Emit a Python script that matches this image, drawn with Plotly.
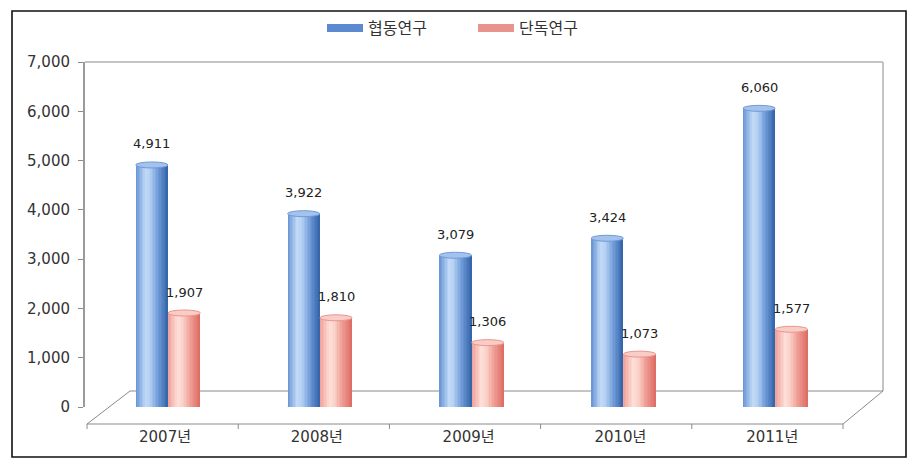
import plotly.graph_objects as go

# ---- data ----
categories = ["2007년", "2008년", "2009년", "2010년", "2011년"]
coop_values = [4911, 3922, 3079, 3424, 6060]     # 협동연구
solo_values = [1907, 1810, 1306, 1073, 1577]     # 단독연구
series_names = ["협동연구", "단독연구"]
y_ticks = [0, 1000, 2000, 3000, 4000, 5000, 6000, 7000]

# ---- style ----
FONT = "DejaVu Sans, Noto Sans CJK KR"
blue_key = [(0.0, "#6592d4"), (0.3, "#c2daf6"), (0.45, "#b2cff2"),
            (0.7, "#6d99d6"), (1.0, "#3162a8")]
red_key = [(0.0, "#ef9f97"), (0.3, "#fde0d8"), (0.45, "#fad2ca"),
           (0.7, "#ef9b92"), (1.0, "#db6b64")]
cap_fill = ["#a3c3ee", "#f9cdc6"]
cap_line = ["#6f9ad6", "#e8968e"]
legend_col = ["#5b8ad0", "#e8938c"]
NSTRIP = 22

OFFSET = 8                      # page body margin of the browser
WIN_W, WIN_H = 918, 467
L, R, T, B = 85, 883, 62, 407   # plot area in window pixels
X0, X1 = -0.527, 4.730
Y0, Y1 = 0, 7000
bar_w = 0.213
bar_shift = 0.02
px_per_y = (B - T) / (Y1 - Y0)


def px(xp):
    return (xp - L) / (R - L)


def py(yp):
    return (B - yp) / (B - T)


def hex2rgb(h):
    h = h.lstrip("#")
    return [int(h[i:i + 2], 16) for i in (0, 2, 4)]


def grad(key, t):
    for (t0, c0), (t1, c1) in zip(key[:-1], key[1:]):
        if t0 <= t <= t1:
            f = (t - t0) / (t1 - t0)
            a, b = hex2rgb(c0), hex2rgb(c1)
            return "rgb({},{},{})".format(*[round(a[j] + (b[j] - a[j]) * f) for j in range(3)])
    return key[-1][1]


xs = list(range(len(categories)))
fig = go.Figure()

all_series = [coop_values, solo_values]
keys = [blue_key, red_key]
offsets = [-bar_w + bar_shift, bar_shift]

for s, vals in enumerate(all_series):
    sw = bar_w / NSTRIP
    for k in range(NSTRIP):
        col = grad(keys[s], (k + 0.5) / NSTRIP)
        fig.add_trace(go.Bar(
            x=xs, y=vals, width=[sw * 1.6 if k < NSTRIP - 1 else sw] * len(xs),
            offset=[offsets[s] + k * sw] * len(xs),
            marker=dict(color=col, line=dict(width=0)),
            showlegend=False, hoverinfo="skip"))

cap_h = 3 / px_per_y
shapes = []
annotations = []
for s, vals in enumerate(all_series):
    for i, v in enumerate(vals):
        xa = xs[i] + offsets[s]
        xb = xa + bar_w
        shapes.append(dict(type="circle", xref="x", yref="y",
                           x0=xa, x1=xb, y0=-cap_h, y1=cap_h,
                           fillcolor=grad(keys[s], 0.75), line=dict(width=0),
                           layer="below"))
        shapes.append(dict(type="circle", xref="x", yref="y",
                           x0=xa, x1=xb, y0=v - cap_h, y1=v + cap_h,
                           fillcolor=cap_fill[s],
                           line=dict(color=cap_line[s], width=1),
                           layer="above"))
        annotations.append(dict(x=(xa + xb) / 2, y=v, xref="x", yref="y",
                                text=f"{v:,}", showarrow=False, yshift=21,
                                font=dict(family=FONT, size=13, color="#222")))

for s, name in enumerate(series_names):
    fig.add_trace(go.Scatter(x=[None], y=[None], mode="lines", name=name,
                             line=dict(color=legend_col[s], width=8)))

wall = "#c4c4c4"
floor = "#8a8a8a"


def line(x0p, y0p, x1p, y1p, color, width):
    shapes.append(dict(type="line", xref="paper", yref="paper",
                       x0=px(x0p), y0=py(y0p), x1=px(x1p), y1=py(y1p),
                       line=dict(color=color, width=width), layer="below"))


line(L, T, R, T, wall, 2)
line(R, T, R, 391, wall, 2)
line(130, 391, R, 391, floor, 1)
line(87, 424, 130, 391, floor, 1)
line(87, 424, 843, 424, floor, 1)
line(843, 424, R, 391, floor, 1)
for k in range(len(categories) + 1):
    xt = 87 + k * (843 - 87) / len(categories)
    line(xt, 424, xt, 429, floor, 1)

shapes.append(dict(type="rect", xref="paper", yref="paper",
                   x0=px(12), y0=py(11), x1=px(906), y1=py(457),
                   line=dict(color="#111", width=1.6), fillcolor="rgba(0,0,0,0)"))

fig.update_layout(
    width=WIN_W - OFFSET, height=WIN_H - OFFSET, autosize=False,
    margin=dict(l=L - OFFSET, r=WIN_W - R, t=T - OFFSET, b=WIN_H - B, pad=0,
                autoexpand=False),
    paper_bgcolor="white", plot_bgcolor="white",
    barmode="overlay", bargap=0,
    shapes=shapes, annotations=annotations,
    font=dict(family=FONT, size=15, color="#333"),
    legend=dict(orientation="h", x=px(322), xanchor="left",
                y=py(28), yanchor="middle",
                font=dict(family=FONT, size=16, color="#333"),
                itemwidth=36, tracegroupgap=0, entrywidth=100,
                bgcolor="rgba(0,0,0,0)"),
    xaxis=dict(range=[X0, X1], tickvals=xs, ticktext=categories,
               showgrid=False, zeroline=False, showline=False,
               ticks="", ticklabelstandoff=19,
               tickfont=dict(family=FONT, size=15, color="#333")),
    yaxis=dict(range=[Y0, Y1], tickvals=y_ticks, tickformat=",",
               showgrid=False, zeroline=False, showline=True,
               linecolor="#9a9a9a", linewidth=2,
               ticks="outside", ticklen=5, tickcolor="#8a8a8a",
               ticklabelstandoff=5,
               tickfont=dict(family=FONT, size=15, color="#333")),
)

fig.write_html("out.html")
